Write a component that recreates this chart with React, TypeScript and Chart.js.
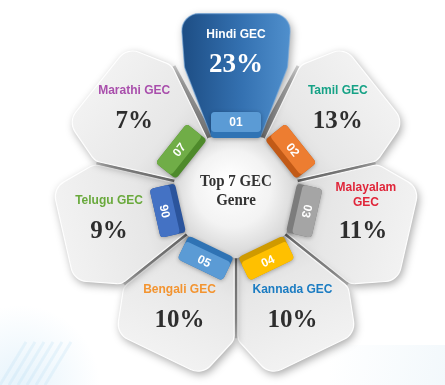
import React, { useEffect, useRef } from 'react';
import { Chart, registerables } from 'chart.js';

Chart.register(...registerables);

// ---- data ----
const genres = ['Hindi GEC', 'Tamil GEC', 'Malayalam GEC', 'Kannada GEC', 'Bengali GEC', 'Telugu GEC', 'Marathi GEC'];
const shares = [23, 13, 11, 10, 10, 9, 7];
const tabLabels = ['01', '02', '03', '04', '05', '06', '07'];
const petalWeights = [1, 1, 1, 1, 1, 1, 1];
const centerTitle = ['Top 7 GEC', 'Genre'];

// ---- styles ----
const nameColors = ['#ffffff', '#16a286', '#e0263a', '#1b7cc2', '#f39430', '#69a93c', '#a94fac'];
const tabFace = ['#5b9bd5', '#ed7d31', '#a5a5a5', '#ffc000', '#5b9bd5', '#4472c4', '#70ad47'];
const tabSide = ['#2f73b4', '#c25a17', '#7c7c7c', '#cf9a00', '#2f73b4', '#2b549c', '#4e8a2b'];

const DEG = Math.PI / 180;
type Pt = { x: number; y: number };

function roundedPoly(ctx: CanvasRenderingContext2D, pts: Pt[], radii: number[]) {
  const n = pts.length;
  ctx.beginPath();
  ctx.moveTo((pts[n - 1].x + pts[0].x) / 2, (pts[n - 1].y + pts[0].y) / 2);
  for (let i = 0; i < n; i++) {
    const p = pts[i];
    const q = pts[(i + 1) % n];
    ctx.arcTo(p.x, p.y, q.x, q.y, radii[i]);
  }
  ctx.closePath();
}

function rrect(ctx: CanvasRenderingContext2D, x: number, y: number, w: number, h: number, r: number) {
  ctx.beginPath();
  ctx.moveTo(x + r, y);
  ctx.arcTo(x + w, y, x + w, y + h, r);
  ctx.arcTo(x + w, y + h, x, y + h, r);
  ctx.arcTo(x, y + h, x, y, r);
  ctx.arcTo(x, y, x + w, y, r);
  ctx.closePath();
}

const flowerPlugin = {
  id: 'flower',
  beforeDraw(chart: any) {
    const ctx: CanvasRenderingContext2D = chart.ctx;
    ctx.save();
    ctx.fillStyle = '#ffffff';
    ctx.fillRect(0, 0, chart.width, chart.height);
    const g = ctx.createRadialGradient(20, 385, 5, 20, 385, 80);
    g.addColorStop(0, 'rgba(150,205,240,0.22)');
    g.addColorStop(1, 'rgba(150,205,240,0)');
    ctx.fillStyle = g;
    ctx.fillRect(0, 300, 150, 85);
    ctx.strokeStyle = 'rgba(160,210,240,0.18)';
    ctx.lineWidth = 3;
    for (let k = 0; k < 6; k++) {
      ctx.beginPath();
      ctx.moveTo(k * 9, 385);
      ctx.lineTo(26 + k * 9, 342);
      ctx.stroke();
    }
    const g2 = ctx.createLinearGradient(330, 350, 445, 380);
    g2.addColorStop(0, 'rgba(205,228,242,0)');
    g2.addColorStop(1, 'rgba(205,228,242,0.25)');
    ctx.fillStyle = g2;
    ctx.fillRect(330, 345, 115, 40);
    ctx.restore();
  },
  afterDatasetsDraw(chart: any) {
    const ctx: CanvasRenderingContext2D = chart.ctx;
    const meta = chart.getDatasetMeta(0);
    const arcs = meta.data.map((el: any) =>
      el.getProps(['x', 'y', 'startAngle', 'endAngle', 'innerRadius', 'outerRadius'], true)
    );
    const cx = arcs[0].x;
    const cy = arcs[0].y;
    const R = arcs[0].outerRadius;
    const P = (r: number, a: number): Pt => ({ x: cx + r * Math.cos(a), y: cy + r * Math.sin(a) });

    // grey shadow wedges between petals
    arcs.forEach((a: any) => {
      const b = a.startAngle;
      const r0 = a.innerRadius;
      const r1 = 0.77 * R;
      const w0 = 6, w1 = 1.6;
      const pts = [P(r0, b - w0 / r0), P(r1, b - w1 / r1), P(r1, b + w1 / r1), P(r0, b + w0 / r0)];
      ctx.save();
      ctx.beginPath();
      pts.forEach((p, k) => (k ? ctx.lineTo(p.x, p.y) : ctx.moveTo(p.x, p.y)));
      ctx.closePath();
      const gr = ctx.createRadialGradient(cx, cy, r0, cx, cy, r1);
      gr.addColorStop(0, '#7d7d7d');
      gr.addColorStop(0.8, '#a8a8a8');
      gr.addColorStop(1, '#d0d0d0');
      ctx.fillStyle = gr;
      ctx.fill();
      ctx.restore();
    });

    const petal = (i: number) => {
      const a = arcs[i];
      const ri = a.innerRadius;
      const mid = (a.startAngle + a.endAngle) / 2;
      const hi = i === 0;
      const gap = 1.8;
      const cornerA = (hi ? 17 : 15) * DEG;
      const kinkR = (hi ? 0.74 : 0.78) * R;
      const inset = hi ? 3 * DEG : 0;
      const rTip = hi ? 1.02 * R : 0.985 * R;
      const pts = [
        P(ri, a.startAngle + gap / ri),
        P(kinkR, a.startAngle + gap / kinkR + inset),
        P(rTip, mid - cornerA),
        P(rTip, mid + cornerA),
        P(kinkR, a.endAngle - gap / kinkR - inset),
        P(ri, a.endAngle - gap / ri),
      ];
      const radii = [0, 12, 17, 17, 12, 0];
      ctx.save();
      roundedPoly(ctx, pts, radii);
      if (hi) {
        const gr = ctx.createLinearGradient(cx - 60, 0, cx + 60, 0);
        gr.addColorStop(0, '#1b4a80');
        gr.addColorStop(0.55, '#3471b1');
        gr.addColorStop(1, '#5393d0');
        ctx.fillStyle = gr;
      } else {
        const p0 = P(ri, mid);
        const p1 = P(R, mid);
        const gr = ctx.createLinearGradient(p0.x, p0.y, p1.x, p1.y);
        gr.addColorStop(0, '#d2d2d2');
        gr.addColorStop(0.35, '#e7e7e7');
        gr.addColorStop(1, '#f3f3f3');
        ctx.fillStyle = gr;
      }
      ctx.shadowColor = 'rgba(0,0,0,0.35)';
      ctx.shadowBlur = 8;
      ctx.shadowOffsetX = 2;
      ctx.shadowOffsetY = 3;
      ctx.fill();
      ctx.shadowColor = 'rgba(0,0,0,0)';
      ctx.lineWidth = 1.2;
      ctx.strokeStyle = hi ? 'rgba(120,170,220,0.6)' : 'rgba(255,255,255,0.95)';
      ctx.stroke();
      ctx.restore();
    };

    for (let i = 1; i < arcs.length; i++) petal(i);
    petal(0);

    // labels
    ctx.save();
    ctx.textAlign = 'center';
    ctx.textBaseline = 'middle';
    arcs.forEach((a: any, i: number) => {
      const mid = (a.startAngle + a.endAngle) / 2;
      const anc = P((i === 0 ? 0.74 : 0.7) * R, mid);
      const ax = anc.x;
      const ay = anc.y - 8;
      ctx.font = 'bold 12px "Liberation Sans", Arial, sans-serif';
      ctx.fillStyle = nameColors[i];
      const name = genres[i];
      if (ctx.measureText(name).width > 85) {
        const k = name.lastIndexOf(' ');
        ctx.fillText(name.slice(0, k), ax + 3, ay - 28);
        ctx.fillText(name.slice(k + 1), ax + 3, ay - 13);
      } else {
        ctx.fillText(name, ax, ay - 15);
      }
      ctx.font = `bold ${i === 0 ? 27 : 25}px "Liberation Serif", "Times New Roman", serif`;
      ctx.fillStyle = i === 0 ? '#ffffff' : '#2e2e2e';
      ctx.fillText(`${shares[i]}%`, ax, ay + 16);
    });
    ctx.restore();

    // heptagon
    ctx.save();
    const hv = arcs.map((a: any) => P(64, a.startAngle));
    roundedPoly(ctx, hv, hv.map(() => 6));
    const hg = ctx.createRadialGradient(cx - 8, cy - 14, 4, cx, cy, 66);
    hg.addColorStop(0, '#ffffff');
    hg.addColorStop(0.55, '#f3f3f3');
    hg.addColorStop(1, '#d2d2d2');
    ctx.fillStyle = hg;
    ctx.shadowColor = 'rgba(0,0,0,0.45)';
    ctx.shadowBlur = 10;
    ctx.shadowOffsetX = 1;
    ctx.shadowOffsetY = 3;
    ctx.fill();
    ctx.restore();

    // tabs
    arcs.forEach((a: any, i: number) => {
      const mid = (a.startAngle + a.endAngle) / 2;
      const c = P(70, mid);
      const rot = mid + Math.PI / 2;
      ctx.save();
      ctx.translate(c.x, c.y);
      ctx.rotate(rot);
      ctx.shadowColor = 'rgba(0,0,0,0.3)';
      ctx.shadowBlur = 4;
      ctx.shadowOffsetY = 1;
      rrect(ctx, -25, -13, 50, 26, 4);
      ctx.fillStyle = tabSide[i];
      ctx.fill();
      ctx.shadowColor = 'rgba(0,0,0,0)';
      rrect(ctx, -25, -13, 50, 20, 4);
      ctx.fillStyle = tabFace[i];
      ctx.fill();
      ctx.translate(0, -3);
      const deg = ((rot / DEG) % 360 + 360) % 360;
      if (deg > 120 && deg < 240) ctx.rotate(Math.PI);
      ctx.fillStyle = '#ffffff';
      ctx.font = 'bold 12px "Liberation Sans", Arial, sans-serif';
      ctx.textAlign = 'center';
      ctx.textBaseline = 'middle';
      ctx.fillText(tabLabels[i], 0, 1);
      ctx.restore();
    });

    // center text
    ctx.save();
    ctx.translate(cx, cy);
    ctx.scale(0.88, 1);
    ctx.fillStyle = '#333333';
    ctx.font = 'bold 17px "Liberation Serif", "Times New Roman", serif';
    ctx.textAlign = 'center';
    ctx.textBaseline = 'middle';
    ctx.fillText(centerTitle[0], 0, -13);
    ctx.fillText(centerTitle[1], 0, 6);
    ctx.restore();
  },
};

export default function App() {
  const ref = useRef<HTMLCanvasElement | null>(null);
  useEffect(() => {
    if (!ref.current) return;
    const chart = new Chart(ref.current, {
      type: 'doughnut',
      data: {
        labels: genres,
        datasets: [
          {
            data: petalWeights,
            backgroundColor: 'rgba(0,0,0,0)',
            borderWidth: 0,
          },
        ],
      },
      options: {
        animation: false,
        responsive: false,
        rotation: -360 / 14,
        cutout: '25%',
        events: [],
        layout: { padding: { top: 9, bottom: 4, left: 27, right: 0 } },
        plugins: { legend: { display: false }, tooltip: { enabled: false } },
      },
      plugins: [flowerPlugin],
    } as any);
    return () => chart.destroy();
  }, []);
  return (
    <div style={{ position: 'absolute', left: 0, top: 0, width: 445, height: 385 }}>
      <canvas ref={ref} width={445} height={385} style={{ display: 'block' }} />
    </div>
  );
}
